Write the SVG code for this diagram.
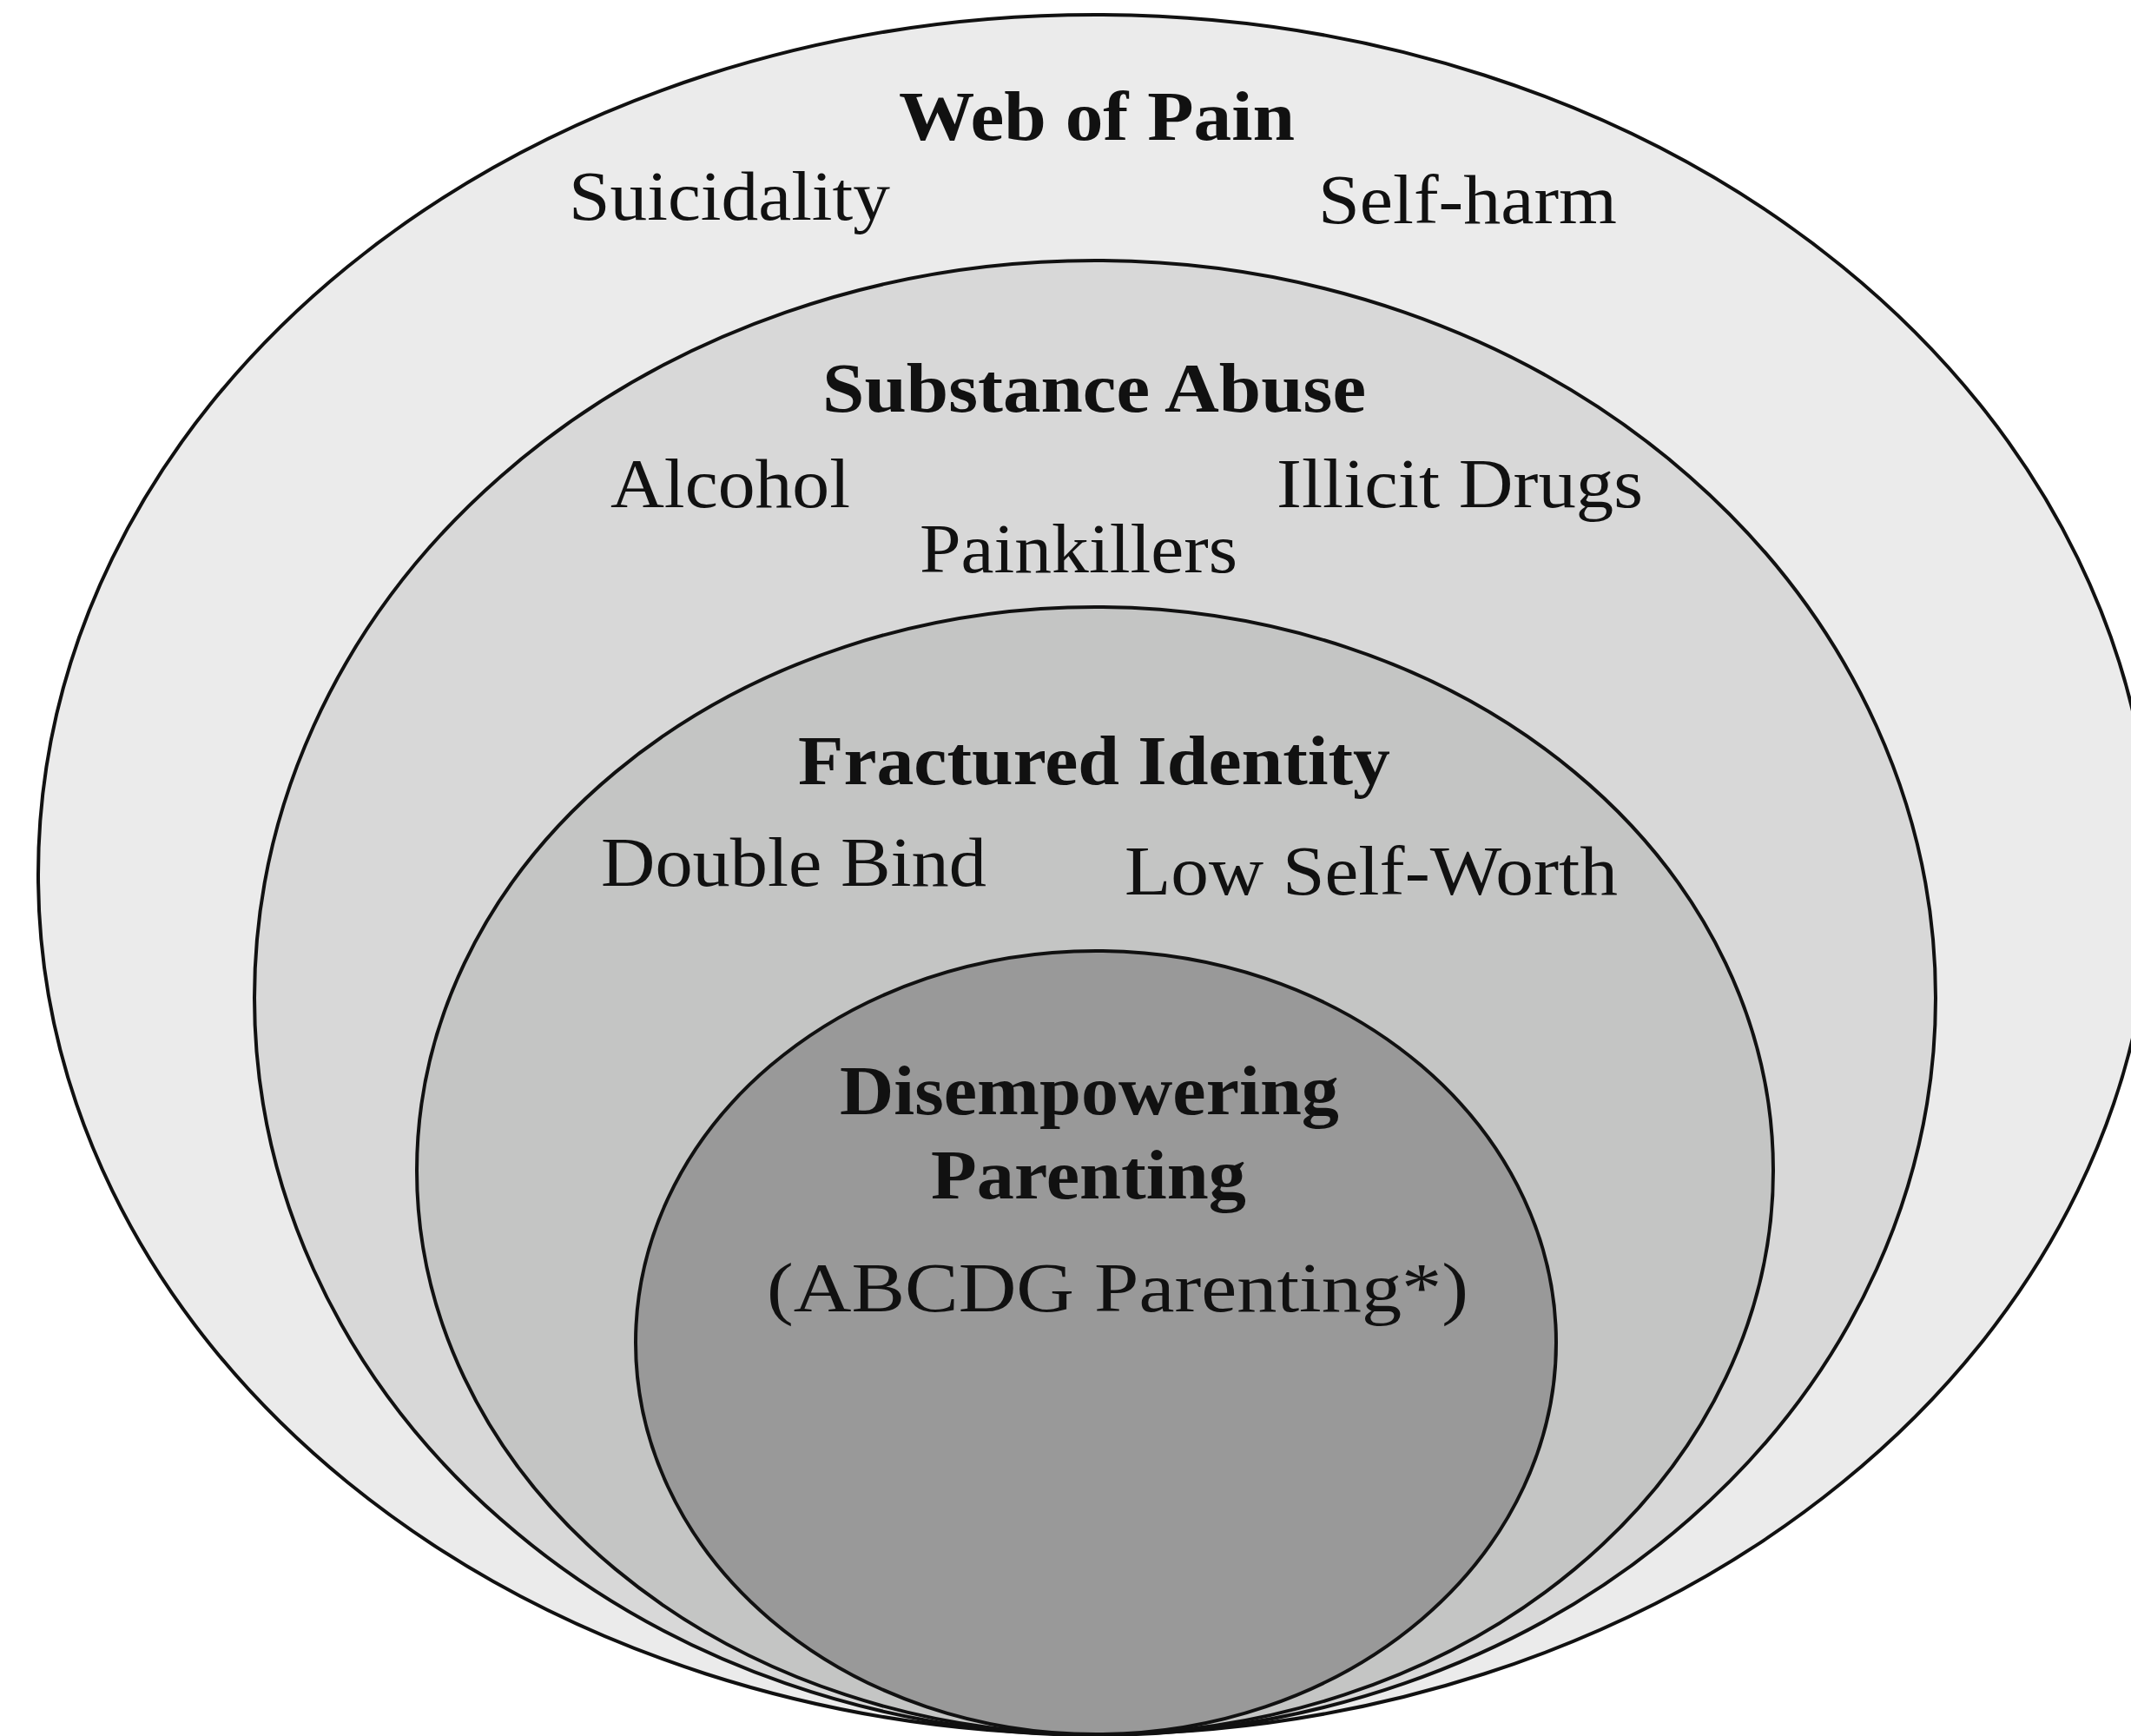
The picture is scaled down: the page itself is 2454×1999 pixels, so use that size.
<svg xmlns="http://www.w3.org/2000/svg" width="2454" height="1999" viewBox="0 0 2454 1999">
<style>
.ring{stroke:#111;stroke-width:4}
.t{font-family:"Liberation Serif","Times New Roman",serif;font-size:80px;fill:#111}
.b{font-weight:bold}
</style>
<rect width="2454" height="1999" fill="#ffffff"/>
<g id="web-of-pain">
<ellipse class="ring" cx="1261" cy="1007" rx="1217" ry="990" fill="#ebebeb"/>
<text class="t b" x="1035" y="161" textLength="456" lengthAdjust="spacingAndGlyphs">Web of Pain</text>
<text class="t" x="655" y="253" textLength="370" lengthAdjust="spacingAndGlyphs">Suicidality</text>
<text class="t" x="1518" y="257" textLength="344" lengthAdjust="spacingAndGlyphs">Self-harm</text>
</g>
<g id="substance-abuse">
<ellipse class="ring" cx="1261" cy="1149" rx="968" ry="849" fill="#d8d8d8"/>
<text class="t b" x="947" y="474" textLength="626" lengthAdjust="spacingAndGlyphs">Substance Abuse</text>
<text class="t" x="703" y="584" textLength="276" lengthAdjust="spacingAndGlyphs">Alcohol</text>
<text class="t" x="1470" y="584" textLength="422" lengthAdjust="spacingAndGlyphs">Illicit Drugs</text>
<text class="t" x="1059" y="659" textLength="366" lengthAdjust="spacingAndGlyphs">Painkillers</text>
</g>
<g id="fractured-identity">
<ellipse class="ring" cx="1261" cy="1348" rx="781" ry="649" fill="#c4c5c4"/>
<text class="t b" x="919" y="903" textLength="682" lengthAdjust="spacingAndGlyphs">Fractured Identity</text>
<text class="t" x="692" y="1020" textLength="444" lengthAdjust="spacingAndGlyphs">Double Bind</text>
<text class="t" x="1295" y="1030" textLength="568" lengthAdjust="spacingAndGlyphs">Low Self-Worth</text>
</g>
<g id="disempowering-parenting">
<ellipse class="ring" cx="1262" cy="1546" rx="530" ry="451" fill="#999999"/>
<text class="t b" x="967" y="1283" textLength="575" lengthAdjust="spacingAndGlyphs">Disempowering</text>
<text class="t b" x="1072" y="1380" textLength="363" lengthAdjust="spacingAndGlyphs">Parenting</text>
<text class="t" x="883" y="1510" textLength="808" lengthAdjust="spacingAndGlyphs">(ABCDG Parenting*)</text>
</g>
<g id="connectors"/>
</svg>
